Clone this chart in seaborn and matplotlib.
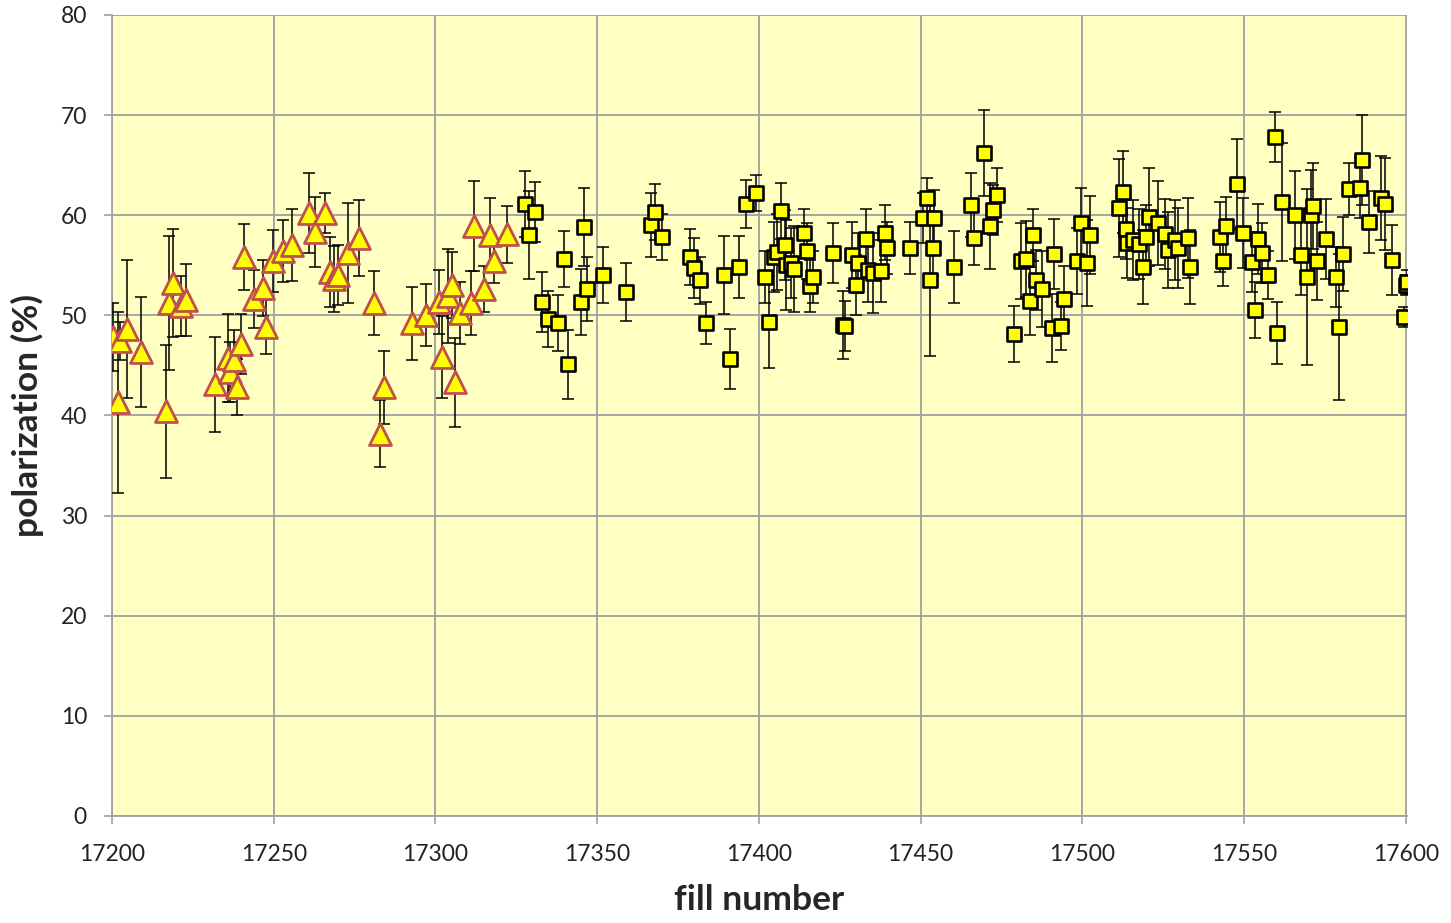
import matplotlib
matplotlib.use("Agg")
import matplotlib.pyplot as plt
import seaborn as sns
import pandas as pd

# ---- data: triangles (earlier fills) ----
tri_fill = [17200.3, 17201.9, 17202.6, 17204.6, 17209.0, 17216.8, 17217.5, 17218.8, 17221.4, 17222.8,
            17231.9, 17236.0, 17236.6, 17237.8, 17238.7, 17239.8, 17240.7, 17243.8, 17246.6, 17247.7,
            17249.8, 17252.8, 17255.7, 17260.9, 17262.7, 17265.8, 17267.4, 17268.6, 17270.0, 17273.0,
            17276.3, 17280.9, 17282.8, 17284.0, 17292.8, 17297.1, 17301.1, 17301.9, 17303.9, 17305.0,
            17305.9, 17307.7, 17311.1, 17311.9, 17315.0, 17317.0, 17318.0, 17322.2]
tri_pol = [47.8, 41.3, 47.4, 48.6, 46.3, 40.4, 51.2, 53.2, 50.9, 51.5,
           43.1, 45.7, 44.3, 45.5, 42.8, 47.1, 55.8, 51.6, 52.7, 48.8,
           55.4, 56.4, 57.0, 60.2, 58.3, 60.2, 54.3, 53.6, 54.0, 56.2,
           57.7, 51.25, 38.2, 42.8, 49.2, 50.0, 51.3, 45.8, 51.9, 53.0,
           43.3, 50.2, 51.25, 58.95, 52.6, 58.0, 55.4, 58.1]
tri_err = [3.4, 9.0, 1.9, 6.9, 5.5, 6.6, 6.7, 5.4, 3.0, 3.6,
           4.7, 4.4, 3.0, 3.0, 2.8, 3.0, 3.3, 2.9, 2.8, 2.7,
           3.1, 3.1, 3.6, 4.0, 3.5, 2.0, 3.5, 3.3, 3.0, 5.0,
           3.8, 3.2, 3.3, 3.65, 3.65, 3.1, 3.2, 4.1, 4.7, 3.3,
           4.4, 3.1, 3.2, 4.5, 2.3, 3.7, 2.2, 2.85]

# ---- data: squares (later fills) ----
sq_fill = [17327.8, 17328.9, 17330.7, 17332.8, 17334.7, 17337.9, 17339.8, 17341.0, 17345.0, 17345.9,
           17346.9, 17351.8, 17358.9, 17366.7, 17368.0, 17370.1, 17378.8, 17379.8, 17381.8, 17383.8,
           17389.2, 17391.0, 17394.0, 17395.9, 17399.2, 17401.8, 17403.1, 17404.8, 17405.6, 17407.0,
           17408.2, 17408.4, 17410.0, 17411.0, 17414.0, 17414.9, 17415.9, 17416.8, 17422.8, 17425.9,
           17426.6, 17428.7, 17429.9, 17430.8, 17433.0, 17433.6, 17435.4, 17437.7, 17438.9, 17439.7,
           17446.7, 17450.7, 17452.0, 17452.8, 17453.8, 17454.3, 17460.4, 17465.6, 17466.5, 17469.7,
           17471.6, 17472.5, 17473.5, 17478.8, 17481.2, 17482.5, 17483.8, 17484.9, 17485.6, 17487.4,
           17490.5, 17491.3, 17493.4, 17494.4, 17498.5, 17499.7, 17501.6, 17502.4, 17511.5, 17512.5,
           17513.6, 17513.9, 17515.8, 17517.5, 17518.7, 17519.6, 17520.7, 17523.5, 17525.6, 17526.4,
           17528.7, 17529.5, 17532.6, 17533.3, 17542.6, 17543.6, 17544.4, 17547.7, 17549.6, 17552.4,
           17553.4, 17554.2, 17555.5, 17557.5, 17559.6, 17560.3, 17561.6, 17565.8, 17567.5, 17569.4,
           17570.6, 17571.4, 17572.5, 17575.4, 17578.5, 17579.4, 17580.5, 17582.6, 17585.9, 17586.6,
           17588.5, 17592.5, 17593.6, 17595.7, 17599.5, 17600.2, 17600.5]
sq_pol = [61.1, 58.0, 60.3, 51.3, 49.6, 49.2, 55.6, 45.1, 51.3, 58.8,
          52.6, 54.0, 52.3, 59.0, 60.3, 57.8, 55.8, 54.7, 53.5, 49.2,
          54.0, 45.6, 54.8, 61.1, 62.2, 53.8, 49.3, 55.8, 56.3, 60.4,
          57.0, 55.0, 55.2, 54.6, 58.2, 56.4, 52.9, 53.8, 56.25, 49.0,
          48.9, 56.05, 53.0, 55.2, 57.6, 54.5, 54.2, 54.4, 58.25, 56.75,
          56.7, 59.7, 61.7, 53.5, 56.75, 59.7, 54.8, 61.05, 57.75, 66.2,
          58.9, 60.5, 62.05, 48.15, 55.4, 55.6, 51.4, 58.0, 53.5, 52.6,
          48.7, 56.1, 48.9, 51.65, 55.4, 59.2, 55.2, 58.0, 60.7, 62.3,
          58.6, 57.25, 57.5, 57.1, 54.8, 57.85, 59.8, 59.2, 58.1, 56.5,
          57.5, 56.7, 57.7, 54.8, 57.85, 55.4, 58.9, 63.1, 58.2, 55.3,
          50.55, 57.65, 56.2, 54.0, 67.8, 48.2, 61.3, 60.0, 56.0, 53.8,
          60.0, 60.9, 55.4, 57.6, 53.8, 48.8, 56.1, 62.6, 62.7, 65.5,
          59.3, 61.75, 61.1, 55.5, 49.8, 53.0, 53.3]
sq_err = [3.3, 4.4, 3.0, 3.0, 2.8, 2.8, 2.8, 3.45, 3.3, 3.9,
          3.2, 2.8, 2.9, 3.2, 2.8, 2.3, 2.8, 3.0, 2.35, 2.1,
          3.9, 3.0, 3.1, 2.4, 1.8, 2.6, 4.6, 3.5, 3.8, 2.8,
          3.5, 4.5, 3.5, 4.3, 2.4, 2.8, 2.6, 2.6, 3.0, 3.4,
          2.5, 3.3, 3.0, 3.0, 3.0, 3.2, 4.0, 3.1, 2.75, 2.6,
          2.6, 2.5, 2.0, 7.6, 2.8, 2.8, 3.6, 3.2, 2.7, 4.3,
          4.3, 2.5, 2.7, 2.8, 3.8, 3.8, 3.4, 2.6, 3.0, 3.8,
          3.4, 3.5, 2.4, 3.25, 3.3, 3.5, 4.3, 3.9, 4.9, 4.1,
          3.0, 3.5, 4.0, 3.5, 3.7, 3.2, 4.9, 4.2, 3.5, 3.8,
          4.0, 4.0, 4.0, 3.7, 3.5, 2.5, 2.9, 4.5, 3.5, 3.0,
          2.8, 3.5, 3.0, 2.4, 2.5, 3.1, 5.9, 4.4, 4.0, 8.8,
          4.5, 4.3, 3.9, 4.0, 3.0, 7.3, 3.7, 2.6, 3.0, 4.5,
          3.1, 4.2, 4.6, 3.5, 1.0, 1.0, 1.2]

x_ticks = [17200, 17250, 17300, 17350, 17400, 17450, 17500, 17550, 17600]
y_ticks = [0, 10, 20, 30, 40, 50, 60, 70, 80]

tri_df = pd.DataFrame({"fill": tri_fill, "pol": tri_pol, "err": tri_err})
sq_df = pd.DataFrame({"fill": sq_fill, "pol": sq_pol, "err": sq_err})

sns.set_theme(style="white")
plt.rcParams["font.family"] = ["Lato", "DejaVu Sans"]

fig = plt.figure(figsize=(14.51, 9.23), dpi=100)
ax = fig.add_axes([112 / 1451, 1 - 816 / 923, (1407 - 112) / 1451, (816 - 15) / 923])
ax.set_facecolor("#FFFFC2")

# error bars
for df in (tri_df, sq_df):
    ax.errorbar(df["fill"], df["pol"], yerr=df["err"], fmt="none", ecolor="black",
                elinewidth=1.1, capsize=4.5, capthick=1.1, zorder=3)

sns.scatterplot(data=tri_df, x="fill", y="pol", marker="^", s=250, color="#FFFF00",
                edgecolor="#C0504D", linewidth=2.0, ax=ax, zorder=4, legend=False)
sns.scatterplot(data=sq_df, x="fill", y="pol", marker="s", s=115, color="#FFFF00",
                edgecolor="black", linewidth=1.9, ax=ax, zorder=5, legend=False)

ax.set_xlim(17200, 17600.4)
ax.set_ylim(0, 80)
ax.set_xticks(x_ticks)
ax.set_yticks(y_ticks)
ax.set_xticklabels([str(t) for t in x_ticks], fontsize=16.5, color="#222222")
ax.set_yticklabels([str(t) for t in y_ticks], fontsize=16.5, color="#222222")
ax.grid(True, color="#A0A0A0", linewidth=1.3)
ax.set_axisbelow(True)
for side in ("top", "right"):
    ax.spines[side].set_visible(False)
ax.spines["left"].set_color("#A0A0A0")
ax.spines["bottom"].set_color("#A0A0A0")
ax.spines["left"].set_linewidth(1.3)
ax.spines["bottom"].set_linewidth(1.3)
ax.tick_params(axis="both", which="both", direction="out", length=6, width=1.2,
               color="#A0A0A0", bottom=True, left=True)
ax.tick_params(axis="x", pad=14)
ax.tick_params(axis="y", pad=12)

ax.set_xlabel("fill number", fontsize=25.5, fontweight="bold", labelpad=14)
ax.set_ylabel("polarization (%)", fontsize=25.5, fontweight="bold", labelpad=12)

fig.savefig("out.png", dpi=100)
